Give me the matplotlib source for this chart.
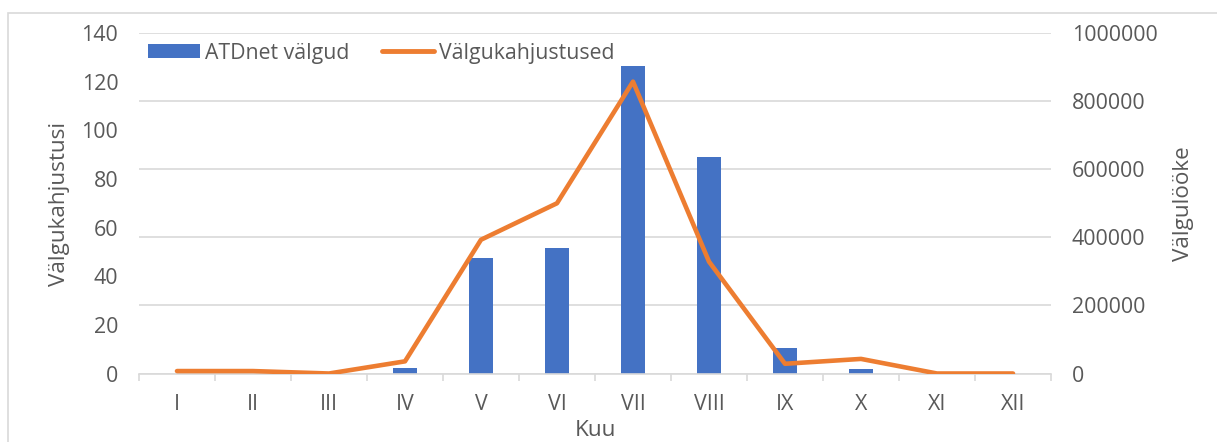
import matplotlib
matplotlib.use("Agg")
import matplotlib.pyplot as plt
from matplotlib.patches import Rectangle, Patch
from matplotlib.lines import Line2D
import numpy as np

months = ['I', 'II', 'III', 'IV', 'V', 'VI', 'VII', 'VIII', 'IX', 'X', 'XI', 'XII']
lightning = [0, 0, 0, 15000, 340000, 369000, 902000, 636000, 75000, 13000, 0, 0]
damages = [1, 1, 0, 5, 55, 70, 120, 46, 4, 6, 0, 0]
left_ticks = [0, 20, 40, 60, 80, 100, 120, 140]
right_ticks = [0, 200000, 400000, 600000, 800000, 1000000]

plt.rcParams['font.family'] = ['Open Sans', 'DejaVu Sans']
FS = 15.4
FT = 16.2
FL = 15.3
TXT = '#595959'
GRID = '#d9d9d9'
BLUE = '#4472C4'
ORANGE = '#ED7D31'

W, H = 1217, 442
fig = plt.figure(figsize=(W / 100, H / 100), dpi=100)
L, R, T, B = 139, 1051, 33, 373.5
ax2 = fig.add_axes([L / W, 1 - B / H, (R - L) / W, (B - T) / H])
ax = ax2.twinx()
ax.yaxis.tick_left()
ax2.yaxis.tick_right()

x = np.arange(len(months))

# bars on secondary (right) axis
ax2.bar(x, lightning, width=0.32, color=BLUE, zorder=2)
ax2.set_ylim(0, 1000000)
ax2.set_yticks(right_ticks)
ax2.set_yticklabels([str(v) for v in right_ticks])
ax2.grid(axis='y', color=GRID, linewidth=1.2)
ax2.set_axisbelow(True)

# line on primary (left) axis
ax.plot(x, damages, color=ORANGE, linewidth=3.3, solid_capstyle='round', zorder=3)
ax.set_ylim(0, 140)
ax.set_yticks(left_ticks)
ax.set_zorder(ax2.get_zorder() + 1)
ax.patch.set_visible(False)

for a in (ax, ax2):
    a.set_xlim(-0.5, 11.5)
    for s in ('top', 'left', 'right', 'bottom'):
        a.spines[s].set_visible(False)

ax2.spines['bottom'].set_visible(True)
ax2.spines['bottom'].set_color(GRID)
ax2.spines['bottom'].set_linewidth(1.2)

ax.tick_params(axis='y', length=0, pad=15, labelsize=FS, labelcolor=TXT)
ax2.tick_params(axis='y', length=0, pad=15, labelsize=FS, labelcolor=TXT, labelleft=False, labelright=True)
ax2.set_xticks(x)
ax2.set_xticklabels(months)
ax2.set_xticks(np.arange(-0.5, 12, 1), minor=True)
ax2.tick_params(axis='x', which='major', length=0, pad=15, labelsize=FS, labelcolor=TXT)
ax2.tick_params(axis='x', which='minor', length=5, width=1.2, color=GRID)
ax.tick_params(axis='x', which='both', length=0, labelbottom=False)

fig.text(59 / W, 1 - 204 / H, 'Välgukahjustusi', rotation=90, ha='center', va='center',
         fontsize=FT, color=TXT)
fig.text(1183 / W, 1 - 204 / H, 'Välgulööke', rotation=90, ha='center', va='center',
         fontsize=FT, color=TXT)
fig.text(595 / W, 1 - 430 / H, 'Kuu', ha='center', va='center', fontsize=FT, color=TXT)

handles = [Patch(facecolor=BLUE, edgecolor='none'),
           Line2D([0], [0], color=ORANGE, linewidth=3.5, solid_capstyle='round')]
leg = ax.legend(handles, ['ATDnet välgud', 'Välgukahjustused'], ncol=2, frameon=False,
                loc='center left', bbox_to_anchor=(148 / W, 1 - 53 / H),
                bbox_transform=fig.transFigure, borderpad=0, borderaxespad=0,
                handlelength=2.45, handleheight=0.65, handletextpad=0.25, columnspacing=1.5,
                fontsize=FL, labelcolor=TXT)

fig.patches.append(Rectangle((8 / W, -0.05), 1.2, 1 - 13 / H + 0.05, transform=fig.transFigure,
                             facecolor='none', edgecolor=GRID, linewidth=1.2))

fig.savefig('out.png', dpi=100)
